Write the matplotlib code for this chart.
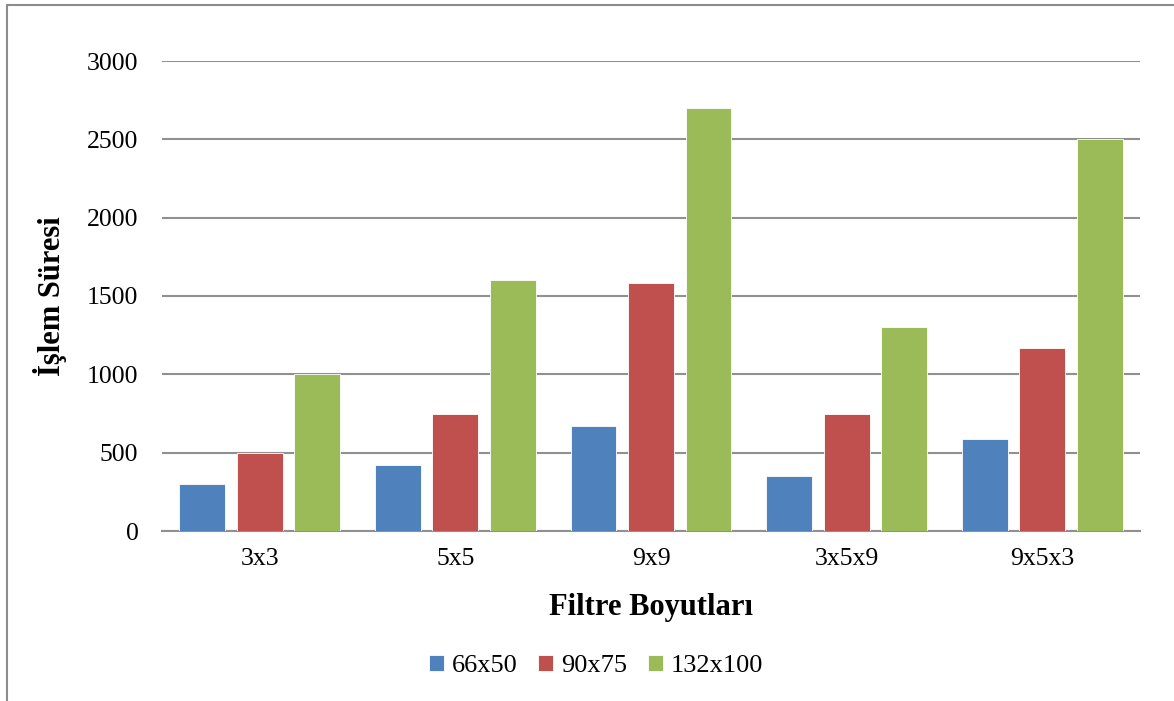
import numpy as np
import matplotlib.pyplot as plt
from matplotlib.patches import Rectangle

plt.rcParams['font.family'] = ['Liberation Serif', 'DejaVu Serif']

filtreler = ['3x3', '5x5', '9x9', '3x5x9', '9x5x3']
seriler = ['66x50', '90x75', '132x100']
sure_66x50 = [300, 420, 670, 350, 585]
sure_90x75 = [500, 750, 1585, 750, 1170]
sure_132x100 = [1000, 1600, 2700, 1300, 2500]
renkler = ['#4F81BD', '#C0504D', '#9BBB59']

fig = plt.figure(figsize=(11.74, 7.01), dpi=100)
ax = fig.add_axes([162 / 1174, 1 - 531 / 701, 978 / 1174, 470 / 701])

# outer chart frame
fig.patches.append(Rectangle((7 / 1174, -0.1), 1.2, (701 - 5) / 701 + 0.1,
                             transform=fig.transFigure, fill=False,
                             edgecolor='#8c8c8c', linewidth=1.5))

x = np.arange(len(filtreler))
genislik = 0.235
aralik = 0.294
for i, (ad, veri) in enumerate(zip(seriler, [sure_66x50, sure_90x75, sure_132x100])):
    ax.bar(x + (i - 1) * aralik, veri, genislik, color=renkler[i], label=ad,
           edgecolor='white', linewidth=0.6, zorder=3)

ax.set_xlim(-0.5, len(filtreler) - 0.5)
ax.set_ylim(0, 3000)
ax.set_yticks(range(0, 3001, 500))
ax.set_xticks(x)
ax.set_xticklabels(filtreler)
ax.yaxis.grid(True, color='#909090', linewidth=1.5, zorder=0)
ax.tick_params(axis='both', length=0, labelsize=18.5, pad=12)
ax.tick_params(axis='y', pad=17)
for s in ['top', 'right', 'left']:
    ax.spines[s].set_visible(False)
ax.spines['bottom'].set_color('#909090')
ax.spines['bottom'].set_linewidth(1.5)

ax.set_xlabel('Filtre Boyutları', fontsize=22, fontweight='bold', labelpad=17)
ax.set_ylabel('İşlem Süresi', fontsize=22, fontweight='bold', labelpad=14)

fig.legend(loc='center', bbox_to_anchor=(596 / 1174, 1 - 666 / 701), ncol=3, frameon=False,
           fontsize=19, handlelength=0.55, handleheight=0.55, handletextpad=0.3,
           columnspacing=0.8)

fig.savefig('out.png', dpi=100)
